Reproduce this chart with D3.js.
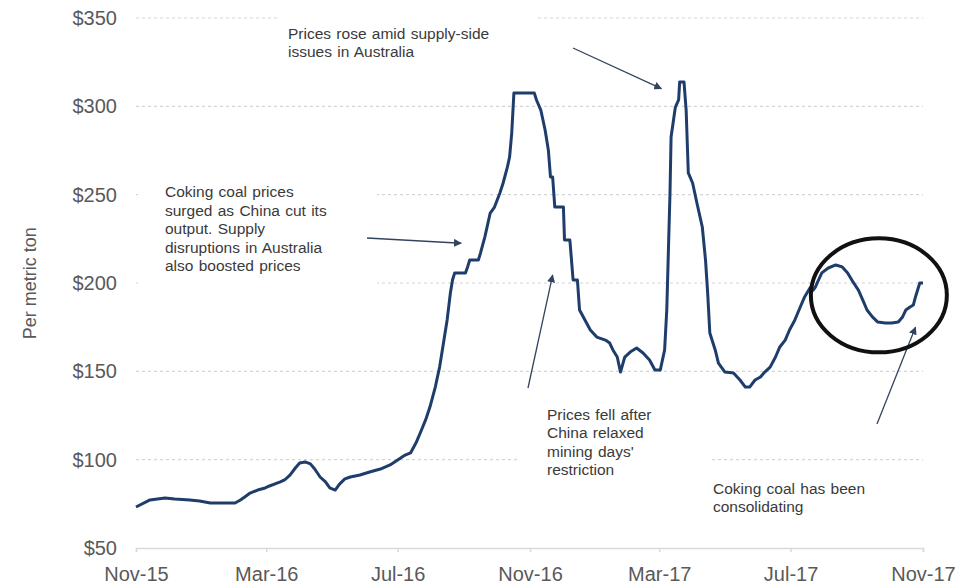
<!DOCTYPE html>
<html>
<head>
<meta charset="utf-8">
<script src="https://cdn.jsdelivr.net/npm/d3@7/dist/d3.min.js"></script>
<style>
  html, body { margin: 0; padding: 0; background: #ffffff; }
  svg { display: block; font-family: "Liberation Sans", Arial, sans-serif; }
</style>
</head>
<body>
<svg id="chart" width="959" height="585"></svg>
<script>
// ---- Data ----
const dates = [
  "2015-11-01","2015-11-14","2015-11-28","2015-12-07","2015-12-21","2015-12-30",
  "2016-01-09","2016-01-23","2016-02-01","2016-02-06","2016-02-10","2016-02-15",
  "2016-02-22","2016-02-29","2016-03-04","2016-03-14","2016-03-18","2016-03-23",
  "2016-03-28","2016-04-01","2016-04-06","2016-04-11","2016-04-15","2016-04-20",
  "2016-04-25","2016-04-29","2016-05-04","2016-05-08","2016-05-13","2016-05-18",
  "2016-05-27","2016-06-05","2016-06-15","2016-06-24","2016-07-01","2016-07-08",
  "2016-07-13","2016-07-18","2016-07-22","2016-07-27","2016-07-31","2016-08-05",
  "2016-08-09","2016-08-12","2016-08-16","2016-08-19","2016-08-21","2016-08-23",
  "2016-09-02","2016-09-04","2016-09-06","2016-09-14","2016-09-16","2016-09-20",
  "2016-09-25","2016-09-29","2016-10-04","2016-10-07","2016-10-11","2016-10-13",
  "2016-10-15","2016-10-16","2016-10-17","2016-11-05","2016-11-07","2016-11-11",
  "2016-11-15","2016-11-18","2016-11-20","2016-11-22","2016-11-24","2016-12-02",
  "2016-12-03","2016-12-08","2016-12-11","2016-12-15","2016-12-17","2016-12-22",
  "2016-12-27","2017-01-02","2017-01-10","2017-01-14","2017-01-17","2017-01-21",
  "2017-01-24","2017-01-28","2017-02-02","2017-02-08","2017-02-14","2017-02-20",
  "2017-02-25","2017-03-02","2017-03-06","2017-03-08","2017-03-11","2017-03-12",
  "2017-03-16","2017-03-19","2017-03-20","2017-03-24","2017-03-26","2017-03-28",
  "2017-04-01","2017-04-05","2017-04-10","2017-04-13","2017-04-15","2017-04-17",
  "2017-04-22","2017-04-25","2017-05-01","2017-05-09","2017-05-15","2017-05-20",
  "2017-05-24","2017-05-29","2017-06-03","2017-06-07","2017-06-12","2017-06-17",
  "2017-06-21","2017-06-26","2017-06-30","2017-07-05","2017-07-10","2017-07-14",
  "2017-07-19","2017-07-22","2017-07-24","2017-07-27","2017-07-30","2017-08-05",
  "2017-08-12","2017-08-18","2017-08-23","2017-08-28","2017-09-02","2017-09-06",
  "2017-09-10","2017-09-15","2017-09-20","2017-09-27","2017-10-03","2017-10-09",
  "2017-10-13","2017-10-16","2017-10-20","2017-10-23","2017-10-25","2017-10-29",
  "2017-11-01"
];
const prices = [
  73.2, 77.2, 78.3, 77.7, 77.2, 76.6,
  75.5, 75.5, 75.5, 77.2, 78.9, 81.1,
  82.8, 84.0, 85.1, 87.4, 88.5, 91.3,
  95.3, 98.1, 98.7, 97.6, 94.7, 90.2,
  87.4, 84.0, 82.8, 86.2, 89.1, 90.2,
  91.3, 93.0, 94.7, 97.0, 99.8, 102.6,
  103.8, 109.4, 115.1, 122.5, 129.8, 141.1,
  152.4, 163.8, 179.1, 194.3, 201.7, 205.7,
  205.7, 209.1, 213.0, 213.0, 217.0, 226.0,
  239.6, 243.0, 250.9, 256.6, 265.7, 271.3,
  284.9, 296.2, 307.5, 307.5, 303.6, 297.9,
  286.6, 275.3, 260.0, 260.0, 243.0, 243.0,
  224.3, 224.3, 201.7, 201.7, 184.7, 179.1,
  173.4, 169.4, 167.7, 166.0, 162.1, 158.1,
  149.6, 158.1, 160.9, 163.2, 160.4, 156.4,
  150.8, 150.8, 162.1, 184.7, 250.9, 282.6,
  299.6, 303.6, 313.8, 313.8, 297.9, 262.3,
  256.6, 245.3, 231.7, 213.0, 194.3, 171.7,
  162.1, 154.7, 149.6, 149.1, 145.1, 141.1,
  141.1, 145.1, 146.8, 149.6, 152.4, 158.1,
  163.8, 167.7, 173.4, 179.1, 186.4, 192.1,
  197.2, 196.0, 197.7, 201.7, 205.7, 208.5,
  210.2, 209.1, 205.7, 200.6, 196.0, 190.4,
  184.7, 180.8, 177.9, 177.4, 177.4, 177.9,
  180.8, 184.7, 186.4, 187.5, 192.1, 200.0,
  200.0
];
const yTicks = [50, 100, 150, 200, 250, 300, 350];
const xTickDates = ["2015-11-01","2016-03-01","2016-07-01","2016-11-01","2017-03-01","2017-07-01","2017-11-01"];
const xTickLabels = ["Nov-15","Mar-16","Jul-16","Nov-16","Mar-17","Jul-17","Nov-17"];
const yAxisTitle = "Per metric ton";

const annoTexts = [
  ["Prices rose amid supply-side", "issues in Australia"],
  ["Coking coal prices", "surged as China cut its", "output. Supply", "disruptions in Australia", "also boosted prices"],
  ["Prices fell after", "China relaxed", "mining days'", "restriction"],
  ["Coking coal has been", "consolidating"]
];

// ---- Setup ----
const parse = d3.timeParse("%Y-%m-%d");
const data = dates.map((d, i) => ({ date: parse(d), value: prices[i] }));

const svg = d3.select("#chart");
const mLeft = 136, mRight = 923, mTop = 18, mBottom = 548;

const x = d3.scaleTime()
  .domain([parse("2015-11-01"), parse("2017-11-01")])
  .range([mLeft, mRight]);
const y = d3.scaleLinear().domain([50, 350]).range([mBottom, mTop]);

// gridlines
svg.append("g")
  .selectAll("line")
  .data(yTicks.filter(t => t > 50))
  .join("line")
  .attr("x1", mLeft).attr("x2", mRight)
  .attr("y1", d => y(d)).attr("y2", d => y(d))
  .attr("stroke", "#d4d4d4")
  .attr("stroke-width", 1.2)
  .attr("stroke-dasharray", "3,3");

// white text-box backgrounds (they hide gridlines, as in the source)
const boxes = [
  [277, 4, 258, 66],
  [138, 172, 239, 118],
  [517, 395, 193, 90],
  [700, 476, 200, 44]
];
svg.append("g").selectAll("rect").data(boxes).join("rect")
  .attr("x", d => d[0]).attr("y", d => d[1])
  .attr("width", d => d[2]).attr("height", d => d[3])
  .attr("fill", "#ffffff");

// x axis
const xAxis = d3.axisBottom(x)
  .tickValues(xTickDates.map(parse))
  .tickFormat((d, i) => xTickLabels[i])
  .tickSize(4)
  .tickPadding(15);
const gx = svg.append("g").attr("transform", `translate(0,${mBottom})`).call(xAxis);
gx.select(".domain").attr("stroke", "#d9d9d9").attr("stroke-width", 1.5);
gx.selectAll(".tick line").attr("stroke", "#d9d9d9").attr("stroke-width", 1.5);
gx.selectAll(".tick text")
  .attr("fill", "#595959")
  .attr("font-size", 20)
  .attr("font-family", "Liberation Sans, Arial, sans-serif")
  .attr("dy", "0.71em");

// y axis
const yAxis = d3.axisLeft(y)
  .tickValues(yTicks)
  .tickFormat(d => "$" + d)
  .tickSize(0)
  .tickPadding(19);
const gy = svg.append("g").attr("transform", `translate(${mLeft},0)`).call(yAxis);
gy.select(".domain").remove();
gy.selectAll(".tick text")
  .attr("fill", "#595959")
  .attr("font-size", 20)
  .attr("font-family", "Liberation Sans, Arial, sans-serif");

// y axis title
svg.append("text")
  .attr("transform", `translate(36,${(y(200) + y(150)) / 2 - 44}) rotate(-90)`)
  .attr("text-anchor", "middle")
  .attr("fill", "#595959")
  .attr("font-size", 18)
  .text(yAxisTitle);

// price line
const line = d3.line().x(d => x(d.date)).y(d => y(d.value));
svg.append("path")
  .datum(data)
  .attr("d", line)
  .attr("fill", "none")
  .attr("stroke", "#1f3d6b")
  .attr("stroke-width", 3)
  .attr("stroke-linejoin", "round");

// arrow marker
const defs = svg.append("defs");
defs.append("marker")
  .attr("id", "arrow")
  .attr("viewBox", "0 0 10 10")
  .attr("refX", 9).attr("refY", 5)
  .attr("markerWidth", 8).attr("markerHeight", 8)
  .attr("markerUnits", "userSpaceOnUse")
  .attr("orient", "auto")
  .append("path")
  .attr("d", "M0,0 L10,5 L0,10 z")
  .attr("fill", "#34445e");

// annotations
const annoPos = [
  { tx: 288, ty: 39 },
  { tx: 165, ty: 197 },
  { tx: 547, ty: 420 },
  { tx: 713, ty: 494 }
];
const annoGap = [18, 18.5, 18.3, 18];
annoTexts.forEach((lines, i) => {
  const t = svg.append("text")
    .attr("x", annoPos[i].tx).attr("y", annoPos[i].ty)
    .attr("fill", "#3a3a3a")
    .attr("font-size", 15.5)
    .attr("word-spacing", 1);
  lines.forEach((l, j) => {
    t.append("tspan").attr("x", annoPos[i].tx).attr("dy", j === 0 ? 0 : annoGap[i]).text(l);
  });
});

// arrows: tail near the text, head pointing at the line (data space)
const arrows = [
  { x1: 573, y1: 48, hd: "2017-03-03", hv: 310 },
  { x1: 367, y1: 238, hd: "2016-08-29", hv: 222.5 },
  { x1: 528, y1: 388, hd: "2016-11-22", hv: 204.5 },
  { x1: 877, y1: 424, hd: "2017-10-25", hv: 175 }
];
svg.append("g").selectAll("line").data(arrows).join("line")
  .attr("x1", d => d.x1).attr("y1", d => d.y1)
  .attr("x2", d => x(parse(d.hd))).attr("y2", d => y(d.hv))
  .attr("stroke", "#34445e")
  .attr("stroke-width", 1.3)
  .attr("marker-end", "url(#arrow)");

// highlight ellipse around the consolidation
svg.append("ellipse")
  .attr("cx", x(parse("2017-09-21"))).attr("cy", y(193))
  .attr("rx", 68).attr("ry", 57)
  .attr("fill", "none")
  .attr("stroke", "#111111")
  .attr("stroke-width", 4);
</script>
</body>
</html>
